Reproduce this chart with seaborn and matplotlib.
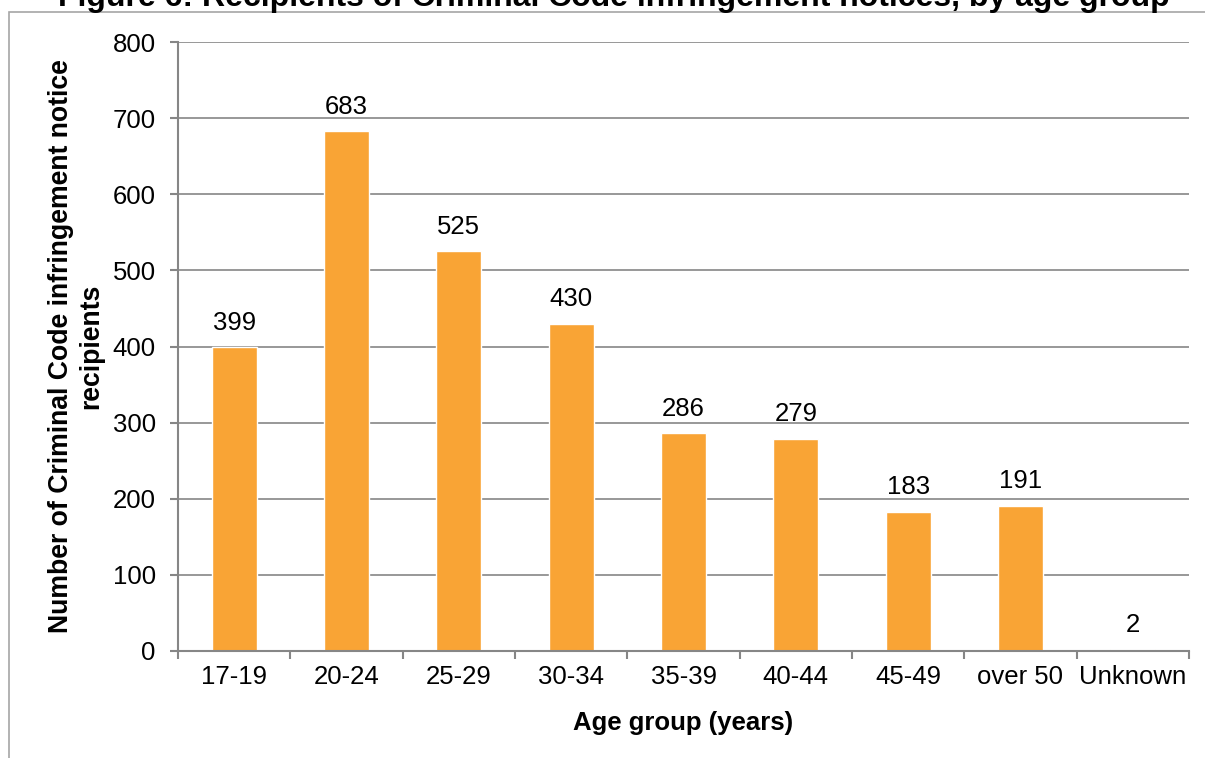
import pandas as pd
import matplotlib
matplotlib.use('Agg')
import matplotlib.pyplot as plt
import seaborn as sns
from matplotlib.patches import Rectangle

# chart data
age_groups = ['17-19', '20-24', '25-29', '30-34', '35-39', '40-44', '45-49', 'over 50', 'Unknown']
recipients = [399, 683, 525, 430, 286, 279, 183, 191, 2]
y_ticks = [0, 100, 200, 300, 400, 500, 600, 700, 800]

df = pd.DataFrame({'AGE': age_groups, 'COUNT': recipients})

sns.set_style('white')
plt.rcParams['font.family'] = ['Liberation Sans', 'DejaVu Sans']
plt.rcParams['text.color'] = 'black'
plt.rcParams['axes.labelcolor'] = 'black'
plt.rcParams['xtick.color'] = 'black'
plt.rcParams['ytick.color'] = 'black'

fig = plt.figure(figsize=(12.05, 7.58), dpi=100)
ax = fig.add_axes([178 / 1205, 1 - 651 / 758, (1189 - 178) / 1205, (651 - 42) / 758])

sns.barplot(data=df, x='AGE', y='COUNT', color='#F9A435', saturation=1,
            width=0.4, ax=ax)

# value labels above bars
ax.bar_label(ax.containers[0], labels=[str(v) for v in recipients],
             padding=9, fontsize=18.5, color='black')

ax.set_ylim(0, 800)
ax.set_yticks(y_ticks)
ax.set_xlim(-0.5, len(age_groups) - 0.5)
ax.yaxis.grid(True, color='#868686', linewidth=1.2)
ax.set_axisbelow(True)

for s in ['top', 'right']:
    ax.spines[s].set_visible(False)
for s in ['left', 'bottom']:
    ax.spines[s].set_color('#868686')
    ax.spines[s].set_linewidth(1.5)

# x ticks at category boundaries, labels centred on bars
ax.set_xticks([i - 0.5 for i in range(len(age_groups) + 1)])
ax.set_xticklabels([])
ax.set_xticks(range(len(age_groups)), minor=True)
ax.set_xticklabels(age_groups, minor=True)
ax.tick_params(axis='x', which='major', direction='out', length=6, width=1.5,
               color='#868686', bottom=True)
ax.tick_params(axis='x', which='minor', length=0, pad=10, labelsize=18.5)
ax.tick_params(axis='y', direction='out', length=6, width=1.5, color='#868686',
               left=True, pad=10, labelsize=18.5)

ax.set_xlabel('Age group (years)', fontsize=18.5, fontweight='bold', labelpad=16)
ax.set_ylabel('Number of Criminal Code infringement notice\nrecipients',
              fontsize=19.2, fontweight='bold', labelpad=6)

fig.text(0.5095, 1 - 6 / 758, 'Figure 6: Recipients of Criminal Code infringement notices, by age group',
         ha='center', va='baseline', fontsize=23, fontweight='bold')

# outer chart frame (partly cropped)
fig.patches.append(Rectangle((9 / 1205, -0.1), 1.2, 1.1 - 12 / 758,
                             transform=fig.transFigure, fill=False,
                             edgecolor='#A6A6A6', linewidth=1.2))

fig.savefig('out.png', dpi=100)
